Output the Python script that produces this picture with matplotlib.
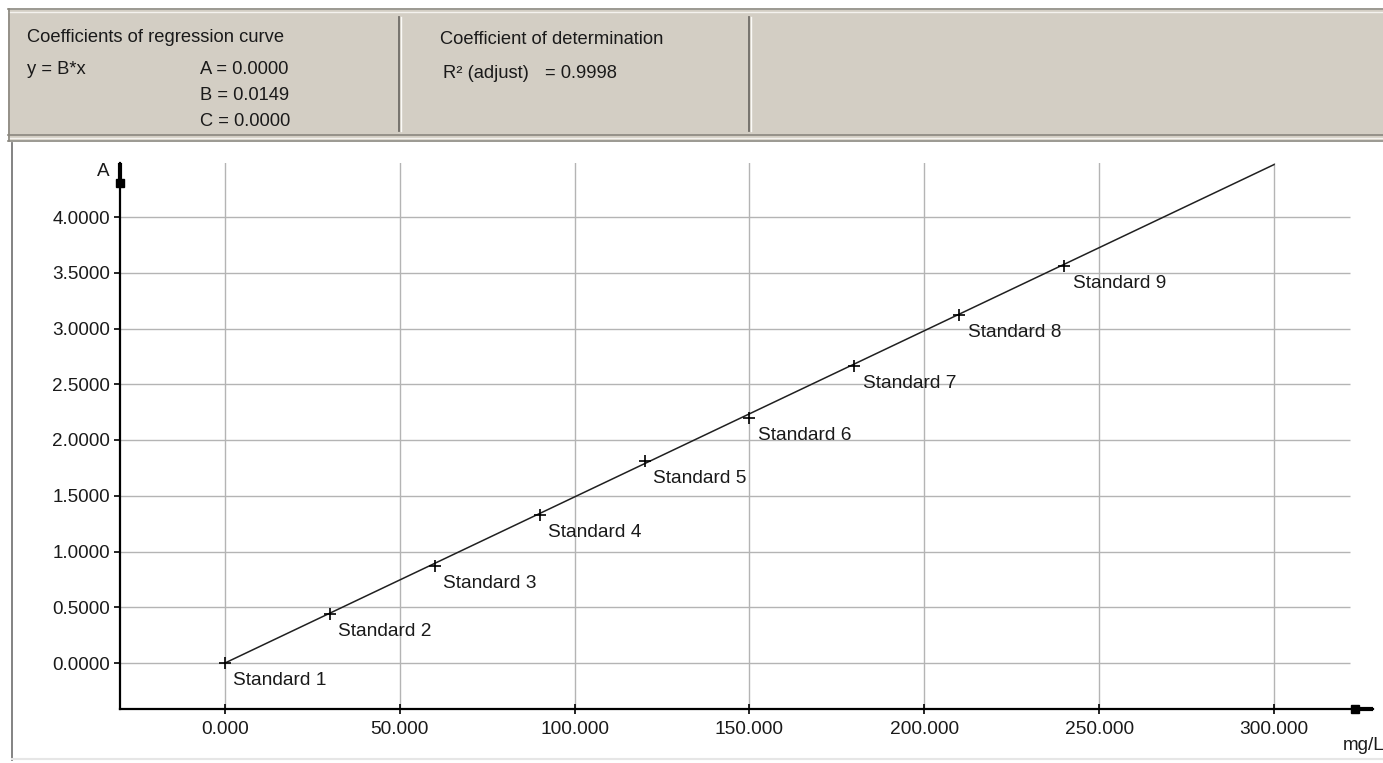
import matplotlib
matplotlib.use("Agg")
import matplotlib.pyplot as plt
from matplotlib.patches import Rectangle
from matplotlib.lines import Line2D

# ---- data ----
conc = [0, 30, 60, 90, 120, 150, 180, 210, 240]
absorb = [0.0, 0.44, 0.87, 1.33, 1.81, 2.20, 2.66, 3.12, 3.56]
labels = ["Standard %d" % i for i in range(1, 10)]
slope_b = 0.0149
fit_x = [0, 300]
xticks = [0, 50, 100, 150, 200, 250, 300]
xticklabels = ["0.000", "50.000", "100.000", "150.000", "200.000", "250.000", "300.000"]
yticks = [0.0, 0.5, 1.0, 1.5, 2.0, 2.5, 3.0, 3.5, 4.0]
yticklabels = ["0.0000", "0.5000", "1.0000", "1.5000", "2.0000", "2.5000", "3.0000", "3.5000", "4.0000"]

W, H = 1383, 763
DPI = 100
plt.rcParams['font.family'] = ['Liberation Sans', 'DejaVu Sans']
fig = plt.figure(figsize=(W / DPI, H / DPI), dpi=DPI)
fig.patch.set_facecolor("white")

def fx(px):
    return px / W

def fy(py):
    return 1 - py / H

HDR = "#d3cec4"
# ---- header panel ----
fig.patches.append(Rectangle((fx(8), fy(140)), fx(1383 - 8), (130) / H,
                             transform=fig.transFigure, facecolor=HDR, edgecolor="none", zorder=0))
for y, c, lw in [(9, "#8a877f", 1.2), (12, "#f4f2ee", 1.0), (135, "#8a877f", 1.2), (141, "#8a877f", 1.2), (138, "#f4f2ee", 1.0)]:
    fig.add_artist(Line2D([fx(8), fx(1383)], [fy(y), fy(y)], color=c, lw=lw, transform=fig.transFigure))
fig.add_artist(Line2D([fx(9), fx(9)], [fy(9), fy(141)], color="#8a877f", lw=1.2, transform=fig.transFigure))
for xs in (399, 749):
    fig.add_artist(Line2D([fx(xs), fx(xs)], [fy(17), fy(131)], color="#6f6c66", lw=1.3, transform=fig.transFigure))
    fig.add_artist(Line2D([fx(xs + 2), fx(xs + 2)], [fy(17), fy(131)], color="#fbfaf7", lw=1.0, transform=fig.transFigure))

hfs = 13.2
def htext(px, py, s, **kw):
    fig.text(fx(px), fy(py), s, fontsize=hfs, va="center", ha="left", color="#1a1a1a", **kw)

htext(27, 38, "Coefficients of regression curve")
htext(27, 69, "y = B*x")
htext(200, 69, "A = 0.0000")
htext(200, 96, "B = 0.0149")
htext(200, 122, "C = 0.0000")
htext(440, 39, "Coefficient of determination")
htext(443, 73, "R² (adjust)")
htext(545, 73, "= 0.9998")

# plot-area frame
fig.add_artist(Line2D([fx(12), fx(12)], [fy(143), fy(760)], color="#7a7a7a", lw=1.3, transform=fig.transFigure))
fig.add_artist(Line2D([fx(12), fx(1383)], [fy(759), fy(759)], color="#e6e6e6", lw=1.5, transform=fig.transFigure))

# ---- axes ----
ax_l, ax_r, ax_b, ax_t = 120, 1373, 709, 163
ax = fig.add_axes([fx(ax_l), fy(ax_b), (ax_r - ax_l) / W, (ax_b - ax_t) / H])
ax.set_facecolor("none")
px_per_x = (1274 - 225) / 300.0
px_per_y = (663 - 217) / 4.0
ax.set_xlim((ax_l - 225) / px_per_x, (ax_r - 225) / px_per_x)
ax.set_ylim((663 - ax_b) / px_per_y, (663 - ax_t) / px_per_y)

grid_xmax = (1350 - 225) / px_per_x
for xv in xticks:
    ax.axvline(xv, color="#b4b4b4", lw=1.0, zorder=1)
ax.hlines(yticks, ax.get_xlim()[0], grid_xmax, color="#b4b4b4", lw=1.0, zorder=1)

fit_y = [slope_b * v for v in fit_x]
ax.plot(fit_x, fit_y, color="#202020", lw=1.1, zorder=3)
ax.plot(conc, absorb, linestyle="none", marker="+", ms=9, mew=1.2, color="black", zorder=4)
for xv, yv, lab in zip(conc, absorb, labels):
    ax.annotate(lab, (xv, yv), xytext=(6, -12.5), textcoords="offset points",
                ha="left", va="center", fontsize=13.8, color="#1a1a1a", zorder=5)

for side in ("top", "right"):
    ax.spines[side].set_visible(False)
for side in ("left", "bottom"):
    ax.spines[side].set_color("black")
    ax.spines[side].set_linewidth(1.6)

ax.set_xticks(xticks)
ax.set_xticklabels(xticklabels)
ax.set_yticks(yticks)
ax.set_yticklabels(yticklabels)
ax.tick_params(axis="y", direction="out", length=4, width=1.2, labelsize=13.6, pad=3, colors="black")
ax.tick_params(axis="x", direction="inout", length=7, width=1.2, labelsize=13.8, pad=5, colors="black")
for t in ax.get_xticklabels() + ax.get_yticklabels():
    t.set_color("#1a1a1a")

# axis arrows (thick ends)
ax.plot([0, 0], [0.96, 1.0], transform=ax.transAxes, color="black", lw=3.0, clip_on=False, solid_capstyle="butt", zorder=6)
ax.plot([0], [0.963], transform=ax.transAxes, marker="s", ms=6, color="black", clip_on=False, zorder=6)
ax.plot([0.983, 1.0], [0, 0], transform=ax.transAxes, color="black", lw=3.0, clip_on=False, solid_capstyle="butt", zorder=6)
ax.plot([0.986], [0], transform=ax.transAxes, marker="s", ms=6, color="black", clip_on=False, zorder=6)

fig.text(fx(110), fy(172), "A", fontsize=13.6, ha="right", va="center", color="#1a1a1a")
fig.text(fx(1343), fy(745), "mg/L", fontsize=13.6, ha="left", va="center", color="#1a1a1a")

fig.savefig("out.png", dpi=DPI, facecolor="white")
